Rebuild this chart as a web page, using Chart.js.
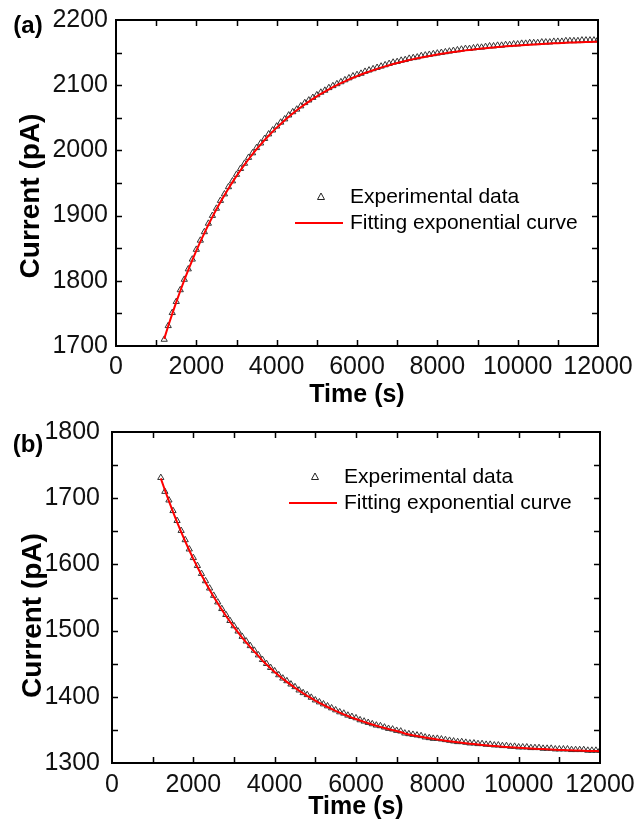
<!DOCTYPE html>
<html>
<head>
<meta charset="utf-8">
<script src="https://cdn.jsdelivr.net/npm/chart.js@4.4.0/dist/chart.umd.min.js"></script>
<style>
  html, body { margin: 0; padding: 0; background: #fff; }
  #wrap { position: relative; width: 637px; height: 825px; }
  #chartA { position: absolute; left: 0; top: 0; }
  #chartB { position: absolute; left: 0; top: 412px; }
</style>
</head>
<body>
<div id="wrap">
  <canvas id="chartA" width="637" height="412"></canvas>
  <canvas id="chartB" width="637" height="413"></canvas>
</div>
<script>
// sampling times (s), shared by both panels
const timeS = [
  1200,1300,1400,1500,1600,1700,1800,1900,2000,2100,
  2200,2300,2400,2500,2600,2700,2800,2900,3000,3100,
  3200,3300,3400,3500,3600,3700,3800,3900,4000,4100,
  4200,4300,4400,4500,4600,4700,4800,4900,5000,5100,
  5200,5300,5400,5500,5600,5700,5800,5900,6000,6100,
  6200,6300,6400,6500,6600,6700,6800,6900,7000,7100,
  7200,7300,7400,7500,7600,7700,7800,7900,8000,8100,
  8200,8300,8400,8500,8600,8700,8800,8900,9000,9100,
  9200,9300,9400,9500,9600,9700,9800,9900,10000,10100,
  10200,10300,10400,10500,10600,10700,10800,10900,11000,11100,
  11200,11300,11400,11500,11600,11700,11800,11900,12000
];

// (a) experimental current (pA)
const expA = [
  1710,1731,1751,1768,1786,1802,1818,1833,1848,1862,
  1875,1888,1900,1911,1923,1933,1944,1953,1963,1972,
  1980,1989,1996,2004,2011,2018,2025,2031,2037,2043,
  2048,2054,2059,2063,2068,2073,2077,2081,2085,2089,
  2092,2096,2099,2102,2105,2108,2111,2114,2116,2118,
  2121,2123,2125,2127,2129,2131,2133,2135,2136,2138,
  2139,2141,2142,2143,2145,2146,2147,2148,2149,2150,
  2151,2152,2153,2154,2155,2156,2156,2157,2158,2158,
  2159,2160,2160,2161,2161,2162,2162,2163,2163,2164,
  2164,2165,2165,2165,2166,2166,2166,2167,2167,2167,
  2168,2168,2168,2168,2169,2169,2169,2169,2170
];

// (a) fitted exponential curve (pA)
const fitA = [
  1711.0,1730.6,1749.3,1767.3,1784.4,1800.9,1816.6,1831.7,1846.2,1860.0,
  1873.2,1885.9,1898.0,1909.6,1920.7,1931.4,1941.6,1951.3,1960.7,1969.6,
  1978.2,1986.4,1994.3,2001.8,2009.0,2015.9,2022.5,2028.8,2034.9,2040.6,
  2046.2,2051.5,2056.6,2061.5,2066.1,2070.6,2074.8,2078.9,2082.9,2086.6,
  2090.2,2093.6,2096.9,2100.1,2103.1,2106.0,2108.8,2111.4,2113.9,2116.4,
  2118.7,2120.9,2123.0,2125.1,2127.0,2128.9,2130.7,2132.4,2134.1,2135.6,
  2137.1,2138.6,2140.0,2141.3,2142.5,2143.7,2144.9,2146.0,2147.1,2148.1,
  2149.1,2150.0,2150.9,2151.8,2152.6,2153.4,2154.1,2154.8,2155.5,2156.2,
  2156.8,2157.4,2158.0,2158.5,2159.1,2159.6,2160.1,2160.5,2161.0,2161.4,
  2161.8,2162.2,2162.6,2162.9,2163.3,2163.6,2163.9,2164.2,2164.5,2164.8,
  2165.1,2165.3,2165.5,2165.8,2166.0,2166.2,2166.4,2166.6,2166.8
];

// (b) experimental current (pA)
const expB = [
  1731,1710,1697,1681,1666,1651,1637,1623,1610,1598,
  1586,1575,1564,1553,1543,1533,1524,1515,1507,1499,
  1491,1484,1477,1470,1463,1456,1450,1444,1439,1433,
  1428,1424,1419,1415,1410,1406,1403,1399,1395,1392,
  1389,1386,1383,1380,1377,1375,1372,1370,1368,1365,
  1363,1361,1359,1357,1356,1354,1352,1351,1349,1348,
  1345,1344,1343,1342,1341,1339,1338,1337,1337,1336,
  1335,1334,1333,1332,1332,1331,1330,1330,1329,1329,
  1328,1328,1327,1327,1326,1326,1325,1325,1324,1324,
  1324,1323,1323,1323,1322,1322,1322,1321,1321,1321,
  1321,1320,1320,1320,1320,1319,1319,1319,1319
];

// (b) fitted exponential curve (pA)
const fitB = [
  1730.0,1712.4,1695.5,1679.4,1663.9,1649.1,1634.9,1621.4,1608.4,1595.9,
  1584.0,1572.6,1561.7,1551.2,1541.2,1531.6,1522.5,1513.7,1505.3,1497.2,
  1489.5,1482.1,1475.1,1468.3,1461.8,1454.6,1448.7,1443.0,1437.5,1432.3,
  1427.3,1422.6,1418.0,1413.6,1409.4,1405.4,1401.5,1397.9,1394.3,1391.0,
  1387.7,1384.6,1381.7,1378.8,1376.1,1373.5,1371.0,1368.6,1366.4,1364.2,
  1362.1,1360.1,1358.2,1356.3,1354.6,1352.9,1351.3,1349.7,1348.3,1346.8,
  1344.5,1343.2,1341.9,1340.8,1339.6,1338.5,1337.5,1336.5,1335.5,1334.6,
  1333.7,1332.9,1332.1,1331.3,1330.6,1329.9,1329.2,1328.6,1327.9,1327.3,
  1326.8,1326.2,1325.7,1325.2,1324.7,1324.3,1323.8,1323.4,1323.0,1322.6,
  1322.3,1321.9,1321.6,1321.3,1321.0,1320.7,1320.4,1320.1,1319.8,1319.6,
  1319.4,1319.1,1318.9,1318.7,1318.5,1318.3,1318.1,1318.0,1317.8
];

const legendLabels = ['Experimental data', 'Fitting exponential curve'];
const FONT = "'Liberation Sans', Arial, sans-serif";

// frame + inward ticks on all four sides, axis titles, panel tag and legend
const panelDecor = {
  id: 'panelDecor',
  afterDatasetsDraw(chart, args, o) {
    const { ctx, chartArea: a, scales: { x, y } } = chart;
    ctx.save();
    ctx.strokeStyle = '#000';
    ctx.lineWidth = 2;
    ctx.strokeRect(a.left, a.top, a.right - a.left, a.bottom - a.top);

    ctx.lineWidth = 1.5;
    ctx.beginPath();
    for (let v = x.min + 1000; v < x.max; v += 1000) {
      const px = Math.round(x.getPixelForValue(v)) + 0.5;
      ctx.moveTo(px, a.bottom); ctx.lineTo(px, a.bottom - 6);
      ctx.moveTo(px, a.top); ctx.lineTo(px, a.top + 6);
    }
    for (let v = y.min + 50; v < y.max; v += 50) {
      const py = Math.round(y.getPixelForValue(v)) + 0.5;
      ctx.moveTo(a.left, py); ctx.lineTo(a.left + 6, py);
      ctx.moveTo(a.right, py); ctx.lineTo(a.right - 6, py);
    }
    ctx.stroke();

    ctx.fillStyle = '#000';
    ctx.textAlign = 'center';
    ctx.textBaseline = 'middle';

    // axis titles
    ctx.font = 'bold 28px ' + FONT;
    ctx.save();
    ctx.translate(o.yTitleX, (a.top + a.bottom) / 2 + o.yTitleShift);
    ctx.rotate(-Math.PI / 2);
    ctx.fillText('Current (pA)', 0, 0);
    ctx.restore();
    ctx.font = 'bold 25px ' + FONT;
    ctx.fillText('Time (s)', (a.left + a.right) / 2, a.bottom + o.xTitleGap);

    // panel tag
    ctx.font = 'bold 24px ' + FONT;
    ctx.fillText(o.tag, 28, o.tagY);

    // legend
    const lx = a.left + o.legendDx;
    const ly = a.top + o.legendDy;
    ctx.strokeStyle = '#222';
    ctx.lineWidth = 1;
    ctx.beginPath();
    ctx.moveTo(lx, ly - 4);
    ctx.lineTo(lx + 3.5, ly + 2.5);
    ctx.lineTo(lx - 3.5, ly + 2.5);
    ctx.closePath();
    ctx.stroke();
    ctx.strokeStyle = '#ff0000';
    ctx.lineWidth = 2;
    ctx.beginPath();
    ctx.moveTo(lx - 26, ly + 26);
    ctx.lineTo(lx + 22, ly + 26);
    ctx.stroke();
    ctx.font = '21px ' + FONT;
    ctx.textAlign = 'left';
    ctx.fillText(legendLabels[0], lx + 29, ly);
    ctx.fillText(legendLabels[1], lx + 29, ly + 26);
    ctx.restore();
  }
};

function makePanel(canvasId, expVals, fitVals, yMin, yMax, p) {
  const canvas = document.getElementById(canvasId);
  return new Chart(canvas, {
    type: 'scatter',
    data: {
      datasets: [{
        label: legendLabels[1],
        data: timeS.map((t, i) => ({ x: t, y: fitVals[i] })),
        showLine: true,
        borderColor: '#ff0000',
        borderWidth: 2,
        pointRadius: 0,
        order: 0
      }, {
        label: legendLabels[0],
        data: timeS.map((t, i) => ({ x: t, y: expVals[i] })),
        pointStyle: 'triangle',
        pointRadius: 3.6,
        pointBorderWidth: 1,
        pointBorderColor: '#333',
        pointBackgroundColor: 'rgba(255,255,255,0)',
        order: 1
      }]
    },
    options: {
      responsive: false,
      animation: false,
      layout: { padding: { left: 0, top: 20, right: p.padRight, bottom: 0 } },
      plugins: {
        legend: { display: false },
        tooltip: { enabled: false },
        panelDecor: p
      },
      scales: {
        x: {
          type: 'linear',
          min: 0,
          max: 12000,
          grid: { display: false },
          border: { display: false },
          afterFit: s => { s.height = canvas.height - p.bottom; },
          ticks: {
            stepSize: 2000,
            color: '#111',
            padding: p.xTickPad,
            maxRotation: 0,
            callback: v => String(v),
            font: { family: FONT, size: 25, lineHeight: 1 }
          }
        },
        y: {
          min: yMin,
          max: yMax,
          grid: { display: false },
          border: { display: false },
          afterFit: s => { s.width = p.left; },
          ticks: {
            stepSize: 100,
            color: '#111',
            padding: p.yTickPad,
            callback: v => String(v),
            font: { family: FONT, size: 25, lineHeight: 1 }
          }
        }
      }
    },
    plugins: [panelDecor]
  });
}

makePanel('chartA', expA, fitA, 1700, 2200, {
  tag: '(a)', tagY: 26, left: 116, bottom: 346, padRight: 39,
  xTickPad: 1, yTickPad: 0, yTitleX: 31, yTitleShift: 13, xTitleGap: 49,
  legendDx: 205, legendDy: 177
});
makePanel('chartB', expB, fitB, 1300, 1800, {
  tag: '(b)', tagY: 33, left: 112, bottom: 351, padRight: 37,
  xTickPad: 2, yTickPad: 4, yTitleX: 33, yTitleShift: 18, xTitleGap: 44,
  legendDx: 203, legendDy: 45
});
</script>
</body>
</html>
